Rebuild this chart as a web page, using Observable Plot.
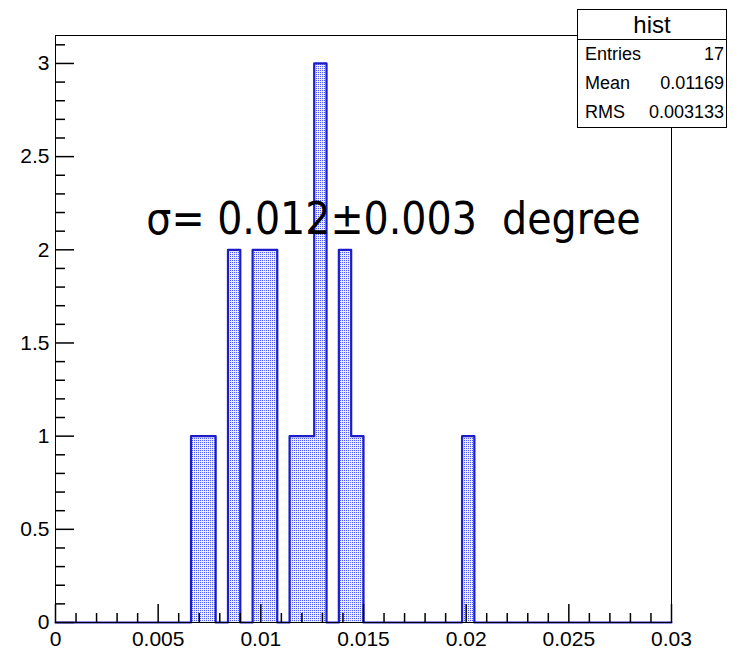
<!DOCTYPE html>
<html>
<head>
<meta charset="utf-8">
<script src="https://cdn.jsdelivr.net/npm/d3@7"></script>
<script src="https://cdn.jsdelivr.net/npm/@observablehq/plot@0.6"></script>
<style>
  html, body { margin: 0; padding: 0; background: white; }
  #wrap { position: relative; width: 738px; height: 650px; }
  #stats { position: absolute; left: 577px; top: 9px; width: 148px; height: 117px;
    border: 1px solid #000; background: white; font-family: "Liberation Sans", Arial, sans-serif; color: #000; }
  #stats .title { height: 29px; border-bottom: 1px solid #000; text-align: center; font-size: 24px; line-height: 29px; }
  #stats .row { display: flex; justify-content: space-between; padding: 0 2px 0 7px; font-size: 18px; height: 29px; line-height: 29px; }
</style>
</head>
<body>
<svg width="0" height="0" style="position:absolute">
  <defs>
    <pattern id="dots" patternUnits="userSpaceOnUse" width="2" height="2">
      <rect width="2" height="2" fill="#e8eaff"></rect>
      <rect width="1" height="1" fill="#4a55f2"></rect>
    </pattern>
  </defs>
</svg>
<div id="wrap"></div>
<script>
// ---- data (ROOT histogram "hist", 50 bins on [0, 0.03]) ----
const histName = "hist";
const xMin = 0;
const xMax = 0.03;
const nBins = 50;
const binLowEdges = [0.0066, 0.0072, 0.0084, 0.0096, 0.0102, 0.0114, 0.0120, 0.0126, 0.0138, 0.0144, 0.0198];
const binCounts   = [1, 1, 2, 2, 2, 1, 1, 3, 2, 1, 1];
const xTicks = [0, 0.005, 0.01, 0.015, 0.02, 0.025, 0.03];
const xTickLabels = ["0", "0.005", "0.01", "0.015", "0.02", "0.025", "0.03"];
const yTicks = [0, 0.5, 1, 1.5, 2, 2.5, 3];
const yTickLabels = ["0", "0.5", "1", "1.5", "2", "2.5", "3"];
const yMax = 3.15;
const statsLabels = ["Entries", "Mean", "RMS"];
const statsValues = ["17", "0.01169", "0.003133"];
const annotation = "σ= 0.012±0.003\u00a0\u00a0degree";

// ---- derived tables ----
const binWidth = (xMax - xMin) / nBins;
const bars = binLowEdges.map((lo, i) => ({x1: lo, x2: lo + binWidth, y: binCounts[i]}));
const full = new Array(nBins).fill(0);
binLowEdges.forEach((lo, i) => { full[Math.round((lo - xMin) / binWidth)] = binCounts[i]; });
const outline = full.map((c, i) => ({x: xMin + i * binWidth, y: c}));
outline.push({x: xMax, y: full[nBins - 1]});
const xMinor = d3.range(0, 31).map(i => i / 1000).filter(v => !xTicks.some(t => Math.abs(t - v) < 1e-9));
const yMinor = d3.range(0, 32).map(i => i / 10).filter(v => !yTicks.some(t => Math.abs(t - v) < 1e-9));

const chart = Plot.plot({
  width: 738,
  height: 650,
  marginLeft: 55,
  marginRight: 67,
  marginTop: 35,
  marginBottom: 28,
  style: {fontFamily: "'Liberation Sans', Arial, sans-serif", fontSize: "21px", color: "black", background: "white"},
  x: {domain: [xMin, xMax]},
  y: {domain: [0, yMax]},
  marks: [
    Plot.rectY(bars, {x1: "x1", x2: "x2", y: "y", fill: "url(#dots)", inset: 0}),
    Plot.line(outline, {x: "x", y: "y", curve: "step-after", stroke: "#1c1cc8", strokeWidth: 2.2}),
    Plot.frame({stroke: "black", strokeWidth: 1}),
    Plot.axisX(xMinor, {tickSize: -9, tickFormat: () => "", label: null, strokeWidth: 1.5}),
    Plot.axisX(xTicks, {tickSize: -18, tickPadding: 27, tickFormat: (d, i) => xTickLabels[i], label: null, strokeWidth: 1.5}),
    Plot.axisY(yMinor, {tickSize: -10, tickFormat: () => "", label: null, strokeWidth: 1.5}),
    Plot.axisY(yTicks, {tickSize: -19, tickPadding: 25, tickFormat: (d, i) => yTickLabels[i], label: null, strokeWidth: 1.5}),
    Plot.text([annotation], {frameAnchor: "top", dx: 30, dy: 198, lineAnchor: "bottom", fontSize: 44, fontFamily: "'DejaVu Sans Condensed', 'DejaVu Sans', sans-serif", fill: "black"})
  ]
});

const wrap = document.getElementById("wrap");
wrap.appendChild(chart);
chart.querySelectorAll("text").forEach(t => {
  if (t.textContent === annotation) t.style.fontStretch = "condensed";
});
const stats = document.createElement("div");
stats.id = "stats";
stats.innerHTML = `<div class="title">${histName}</div>` +
  statsLabels.map((l, i) => `<div class="row"><span>${l}</span><span>${statsValues[i]}</span></div>`).join("");
wrap.appendChild(stats);
</script>
</body>
</html>
